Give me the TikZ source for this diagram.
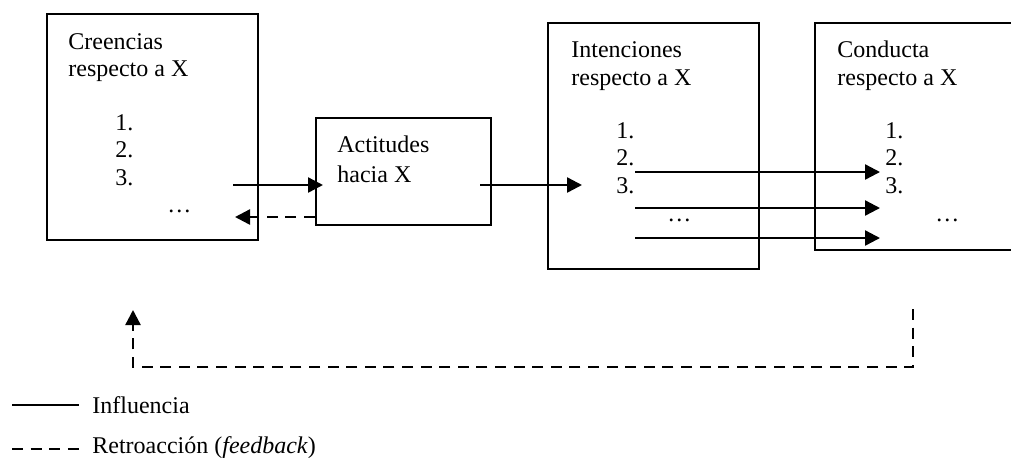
\documentclass[tikz,border=0pt]{standalone}
\usepackage{fontspec}
\setmainfont{Liberation Serif}
\usetikzlibrary{arrows.meta}

\tikzset{
  caja/.style={draw, line width=1.2pt, rectangle, inner sep=0pt},
  txt/.style={anchor=base west, inner sep=0pt, font=\fontsize{12}{14}\selectfont},
  influye/.style={line width=1.2pt, -{Triangle[length=7.5pt,width=7.5pt]}},
  retro/.style={line width=1.2pt, dash pattern=on 5.5pt off 3.8pt, -{Triangle[length=7.5pt,width=7.5pt]}}
}

\begin{document}
\begin{tikzpicture}[x=0.5pt,y=-0.5pt]
\useasboundingbox (0,0) rectangle (1011,457);
\clip (0,0) rectangle (1011,457);

\node[caja, minimum width=105.5pt, minimum height=113pt] (creencias) at (152.5,127) {};
\node[caja, minimum width=87.5pt, minimum height=53.5pt] (actitudes) at (403.5,171.5) {};
\node[caja, minimum width=105.5pt, minimum height=123pt] (intenciones) at (653.5,146) {};
\node[caja, minimum width=105pt, minimum height=113.5pt] (conducta) at (920,136.5) {};

\node[txt] (cre1) at (68,49) {Creencias};
\node[txt] (cre2) at (68,76) {respecto a X};
\foreach \n/\y in {1/130,2/157,3/185} {
    \node[txt] (cren\n) at (115,\y) {\n.};
}
\node[txt] (cred) at (167,212) {…};

\node[txt] (act1) at (337,152) {Actitudes};
\node[txt] (act2) at (337,182) {hacia X};

\node[txt] (int1) at (571,57) {Intenciones};
\node[txt] (int2) at (571,85) {respecto a X};
\foreach \n/\y in {1/138,2/165,3/193} {
    \node[txt] (intn\n) at (616,\y) {\n.};
    \node[txt] (conn\n) at (885,\y) {\n.};
}
\node[txt] (intd) at (667,221) {…};

\node[txt] (con1) at (837,57) {Conducta};
\node[txt] (con2) at (837,85) {respecto a X};
\node[txt] (cond) at (935,221) {…};

\coordinate (creout) at (233,185);
\coordinate (actin) at (323,185);
\coordinate (crein) at (235,217);
\coordinate (actout) at (480,185);
\coordinate (intin) at (582,185);
\draw[influye] (creout) -- (actin);
\draw[retro] (crein -| actitudes.west) -- (crein);
\draw[influye] (actout) -- (intin);

\foreach \y in {172,208,238} {
    \coordinate (a\y) at (635,\y);
    \coordinate (b\y) at (880,\y);
    \draw[influye] (a\y) -- (b\y);
}

\coordinate (fbini) at (913,309);
\coordinate (fbfin) at (133,310);
\draw[retro] (fbini) -- (913,367) -- (133,367) -- (fbfin);

\node[txt] (leyinf) at (92,413) {Influencia};
\node[txt] (leyret) at (92,453) {Retroacción (\textit{feedback})};
\coordinate (l1) at (12,405);
\coordinate (l2) at (12,449);
\draw[line width=1.2pt] (l1) -- (l1 -| 79,0);
\draw[line width=1.2pt, dash pattern=on 5.5pt off 3.8pt] (l2) -- (l2 -| 79,0);
\end{tikzpicture}
\end{document}
